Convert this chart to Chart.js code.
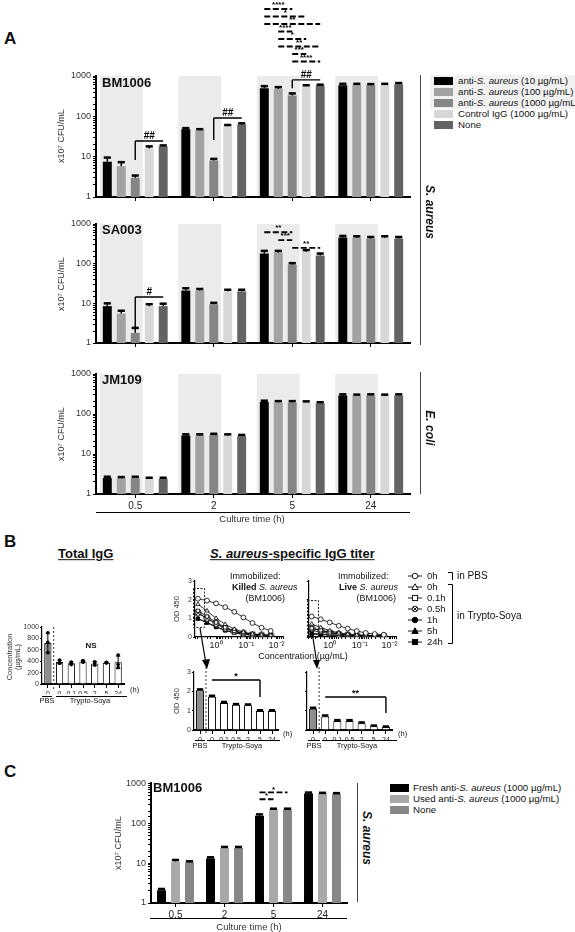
<!DOCTYPE html>
<html>
<head>
<meta charset="utf-8">
<title>CFU and IgG figure</title>
<script src="https://cdn.jsdelivr.net/npm/chart.js@4.4.1/dist/chart.umd.min.js"></script>
<style>
  body { margin: 0; width: 575px; height: 932px; position: relative; overflow: hidden; background: #fff;
         font-family: "Liberation Sans", Arial, sans-serif; color: #111; }
  .box { position: absolute; }
  .t { position: absolute; white-space: nowrap; font-size: 10px; line-height: 1.05; }
  .hl { position: absolute; height: 0; border-top: 1px solid #000; }
  .vl { position: absolute; width: 0; border-left: 1px solid #444; }
  .sw { position: absolute; width: 19px; height: 8px; }
</style>
</head>
<body>
<svg id="ann" width="575" height="932" style="position:absolute;left:0;top:0;z-index:3;pointer-events:none">
  <g fill="none" stroke="#222" stroke-width="1" stroke-dasharray="2,1.5">
    <rect x="193.5" y="588.5" width="11" height="39"/>
    <rect x="307.5" y="600.5" width="11" height="37"/>
  </g>
  <g stroke="#000" stroke-width="1.2">
    <line x1="200" y1="628" x2="205.5" y2="661"/>
    <line x1="313" y1="638" x2="316.5" y2="661"/>
  </g>
  <g fill="#000">
    <polygon points="202,660 210,659 207,669"/>
    <polygon points="313,660 320,660 317,669"/>
  </g>
  <g fill="none" stroke="#000" stroke-width="1">
    <path d="M448 572.5 H452.5 V580"/>
    <path d="M448 584.5 H452.5 V643.5 H448"/>
  </g>
  <g id="legB" stroke="#000" stroke-width="0.9"></g>
</svg>
<script>
Chart.defaults.font.family = '"Liberation Sans", Arial, sans-serif';
Chart.defaults.font.size = 9;
Chart.defaults.color = '#222';
Chart.defaults.animation = false;
Chart.defaults.plugins.legend.display = false;
Chart.defaults.plugins.tooltip.enabled = false;

// ---------- A: bacterial counts (x10^7 CFU/mL) ----------
const times = ['0.5', '2', '5', '24'];
const groupsA = ['anti-<i>S. aureus</i> (10 µg/mL)', 'anti-<i>S. aureus</i> (100 µg/mL)',
                 'anti-<i>S. aureus</i> (1000 µg/mL)', 'Control IgG (1000 µg/mL)', 'None'];
const colorsA = ['#000000', '#a2a2a2', '#858585', '#d7d7d7', '#636363'];

// one row per antibody group, one value per culture time
const bm1006 = [
  [7.5, 48, 500, 590],
  [5.8, 45, 480, 600],
  [3.0, 8.0, 330, 590],
  [16, 57, 560, 600],
  [18, 63, 580, 620]
];
const bm1006Err = [
  [2.0, 3, 60, 50],
  [1.5, 3, 50, 40],
  [0.4, 0.8, 40, 40],
  [2.0, 4, 30, 40],
  [1.0, 4, 30, 50]
];
const sa003 = [
  [8.5, 21, 180, 460],
  [5.5, 21, 190, 450],
  [1.8, 9.5, 95, 430],
  [8.5, 20, 200, 450],
  [8.5, 20, 160, 430]
];
const sa003Err = [
  [1.5, 3, 30, 40],
  [1.0, 2, 20, 40],
  [0.6, 0.8, 8, 40],
  [1.0, 2, 20, 40],
  [1.3, 2, 20, 40]
];
const jm109 = [
  [2.5, 29, 200, 290],
  [2.5, 29, 195, 285],
  [2.5, 30, 195, 290],
  [2.4, 29, 195, 285],
  [2.4, 28, 185, 290]
];
const jm109Err = [
  [0.2, 2, 15, 20],
  [0.15, 2, 15, 20],
  [0.2, 2, 15, 20],
  [0.15, 2, 12, 20],
  [0.15, 2, 12, 20]
];

// ---------- B: IgG ----------
const igLabels = ['0', '0', '0.1', '0.5', '2', '5', '24'];
const igMean = [720, 385, 365, 395, 360, 375, 380];
const igSD = [170, 30, 25, 20, 35, 10, 110];
const igRep1 = [900, 420, 385, 410, 390, 380, 510];
const igRep2 = [730, 370, 340, 400, 370, 375, 340];
const igRep3 = [550, 365, 370, 380, 330, 370, 290];

const conc = [4, 2, 1, 0.5, 0.25, 0.125, 0.0625, 0.03125, 0.0156];
const odLegend = ['0h', '0h', '0.1h', '0.5h', '1h', '5h', '24h'];
const killedPBS0 = [2.05, 1.95, 1.8, 1.6, 1.35, 1.05, 0.75, 0.5, 0.33];
const killedT0 = [1.75, 1.4, 1.0, 0.68, 0.42, 0.26, 0.17, 0.12, 0.09];
const killedT01 = [1.4, 1.1, 0.78, 0.52, 0.33, 0.21, 0.14, 0.1, 0.08];
const killedT05 = [1.3, 1.0, 0.72, 0.48, 0.3, 0.2, 0.13, 0.1, 0.08];
const killedT1 = [1.28, 0.98, 0.7, 0.46, 0.29, 0.19, 0.13, 0.09, 0.07];
const killedT5 = [0.98, 0.78, 0.55, 0.36, 0.23, 0.15, 0.11, 0.08, 0.07];
const killedT24 = [0.98, 0.76, 0.53, 0.35, 0.22, 0.15, 0.1, 0.08, 0.07];
const livePBS0 = [1.1, 0.95, 0.78, 0.6, 0.45, 0.32, 0.22, 0.16, 0.12];
const liveT0 = [0.7, 0.5, 0.34, 0.22, 0.15, 0.11, 0.09, 0.07, 0.06];
const liveT01 = [0.47, 0.36, 0.25, 0.17, 0.12, 0.09, 0.07, 0.06, 0.05];
const liveT05 = [0.47, 0.35, 0.24, 0.16, 0.11, 0.09, 0.07, 0.06, 0.05];
const liveT1 = [0.35, 0.27, 0.19, 0.13, 0.1, 0.08, 0.06, 0.05, 0.05];
const liveT5 = [0.2, 0.16, 0.12, 0.09, 0.07, 0.06, 0.05, 0.05, 0.04];
const liveT24 = [0.15, 0.12, 0.1, 0.08, 0.06, 0.05, 0.05, 0.04, 0.04];

const killedBar = [2.05, 1.72, 1.4, 1.3, 1.28, 0.98, 0.98];
const killedBarErr = [0.05, 0.05, 0.05, 0.04, 0.04, 0.04, 0.04];
const liveBar = [1.1, 0.7, 0.47, 0.47, 0.35, 0.2, 0.15];
const liveBarErr = [0.05, 0.05, 0.04, 0.04, 0.04, 0.03, 0.03];

// ---------- C ----------
const groupsC = ['Fresh anti-<i>S. aureus</i> (1000 µg/mL)', 'Used anti-<i>S. aureus</i> (1000 µg/mL)', 'None'];
const colorsC = ['#000000', '#a8a8a8', '#878787'];
const cFresh = [2.1, 13, 155, 560];
const cUsed = [11, 24, 220, 550];
const cNone = [10.5, 24, 220, 540];
const cFreshErr = [0.15, 1, 12, 30];
const cUsedErr = [1, 1.5, 12, 30];
const cNoneErr = [0.6, 1.5, 12, 30];

// ---------- helpers ----------
const deco = {
  id: 'deco',
  beforeDatasetsDraw(chart, args, o) {
    if (!o.shade) return;
    const { ctx, chartArea: a } = chart;
    ctx.save();
    ctx.fillStyle = '#ebebeb';
    chart.data.labels.forEach((l, i) => {
      const b0 = chart.getDatasetMeta(0).data[i], b2 = chart.getDatasetMeta(2).data[i];
      const x0 = b0.x - b0.width / 2 - 3, x1 = b2.x + b2.width / 2 + 3;
      ctx.fillRect(x0, a.top, x1 - x0, a.bottom - a.top - 1);
    });
    ctx.restore();
  },
  afterDatasetsDraw(chart, args, o) {
    const { ctx, chartArea: a, scales: { y } } = chart;
    ctx.save();
    chart.data.datasets.forEach((ds, j) => {
      if (!ds.errs) return;
      chart.getDatasetMeta(j).data.forEach((el, i) => {
        const v = ds.data[i], e = ds.errs[i];
        const yt = y.getPixelForValue(v + e);
        const yb = ds.both ? y.getPixelForValue(v - e) : y.getPixelForValue(v);
        const cw = el.width * (ds.both ? 0.6 : 0.8) / 2;
        ctx.strokeStyle = '#000';
        ctx.lineWidth = ds.both ? 1 : 1.5;
        ctx.beginPath(); ctx.moveTo(el.x, yb); ctx.lineTo(el.x, yt); ctx.stroke();
        ctx.lineWidth = ds.both ? 1 : 2.5;
        ctx.beginPath(); ctx.moveTo(el.x - cw, yt); ctx.lineTo(el.x + cw, yt);
        if (ds.both) { ctx.moveTo(el.x - cw, yb); ctx.lineTo(el.x + cw, yb); }
        ctx.stroke();
      });
    });
    if (o.sep) {
      const m = chart.getDatasetMeta(0).data;
      const xs = (m[0].x + m[1].x) / 2;
      ctx.strokeStyle = '#333'; ctx.lineWidth = 1; ctx.setLineDash([2, 2]);
      ctx.beginPath(); ctx.moveTo(xs, a.top - o.sep[0]); ctx.lineTo(xs, a.bottom + o.sep[1]); ctx.stroke();
      ctx.setLineDash([]);
    }
    (o.marks || []).forEach(m => {
      const p1 = chart.getDatasetMeta(m.x1[0]).data[m.x1[1]];
      const p2 = chart.getDatasetMeta(m.x2[0]).data[m.x2[1]];
      const yy = m.lift != null ? a.top - m.lift : y.getPixelForValue(m.at);
      ctx.strokeStyle = '#000';
      ctx.lineWidth = m.dash ? 1.8 : 1.4;
      ctx.setLineDash(m.dash ? [6, 2.5] : []);
      ctx.beginPath(); ctx.moveTo(p1.x, yy); ctx.lineTo(p2.x, yy);
      if (m.drop != null) {
        const xd = m.side === 'right' ? p2.x : p1.x;
        ctx.moveTo(xd, yy); ctx.lineTo(xd, y.getPixelForValue(m.drop));
      }
      ctx.stroke(); ctx.setLineDash([]);
      ctx.fillStyle = '#000';
      ctx.font = 'bold ' + (m.size || 9) + 'px "Liberation Sans", Arial';
      ctx.textAlign = 'center'; ctx.textBaseline = 'bottom';
      ctx.fillText(m.text, (p1.x + p2.x) / 2, yy + (m.dy || 0));
    });
    ctx.restore();
  }
};
Chart.register(deco);

function chartAt(area, yW, xH, pad, config) {
  const left = area[0] - yW, top = area[1] - pad.top;
  const w = area[2] - left + pad.right, h = area[3] + xH - top;
  const wrap = document.createElement('div');
  wrap.className = 'box';
  wrap.style.cssText = `left:${left}px;top:${top}px;width:${w}px;height:${h}px`;
  const cv = document.createElement('canvas');
  wrap.appendChild(cv);
  document.body.appendChild(wrap);
  const o = config.options;
  o.responsive = true;
  o.maintainAspectRatio = false;
  o.layout = { padding: { top: pad.top, right: pad.right, left: 0, bottom: 0 } };
  o.scales.x.afterFit = s => { s.height = xH; };
  o.scales.y.afterFit = s => { s.width = yW; };
  return new Chart(cv, config);
}

const isDecade = v => Math.abs(Math.log10(v) - Math.round(Math.log10(v))) < 1e-6;
const sup = { '0': '⁰', '-1': '⁻¹', '-2': '⁻²' };

function logY(min, max, fs) {
  return {
    type: 'logarithmic', min: min, max: max,
    border: { color: '#000', width: 2 },
    grid: { drawOnChartArea: false, color: '#000', tickLength: 3 },
    ticks: { autoSkip: false, padding: 2, color: '#333', font: { size: fs },
             callback: v => isDecade(v) ? String(v) : '' }
  };
}
function catX(show, fs) {
  return {
    type: 'category', offset: true,
    border: { color: '#000', width: 2 },
    grid: { drawOnChartArea: false, offset: false, color: '#000', tickLength: 4 },
    ticks: { display: show, autoSkip: false, maxRotation: 0, minRotation: 0,
             padding: 2, color: '#222', font: { size: fs } }
  };
}
function barSets(rows, errs, colors, catPct) {
  return rows.map((r, i) => ({
    data: r, errs: errs[i], backgroundColor: colors[i], borderWidth: 0,
    categoryPercentage: catPct, barPercentage: 0.64
  }));
}

function chartA(area, rows, errs, marks, showX) {
  return chartAt(area, 40, showX ? 17 : 8, { top: area[1], right: 6 }, {
    type: 'bar',
    data: { labels: times, datasets: barSets(rows, errs, colorsA, 0.89) },
    options: {
      scales: { x: catX(showX, 10), y: logY(1, 1000, 9) },
      plugins: { deco: { shade: true, marks: marks } }
    }
  });
}

// ---------- panel A charts ----------
chartA([96, 76, 410, 197], bm1006, bm1006Err, [
  { x1: [2, 0], x2: [4, 0], at: 24.5, drop: 8.3, text: '##', size: 10 },
  { x1: [2, 1], x2: [4, 1], at: 91, drop: 26, text: '##', size: 10 },
  { x1: [2, 2], x2: [4, 2], at: 800, drop: 500, text: '##', size: 10 },
  { x1: [0, 2], x2: [2, 2], lift: 67, text: '****', dash: true, size: 8 },
  { x1: [0, 2], x2: [3, 2], lift: 59.5, text: '*', dash: true, size: 8 },
  { x1: [0, 2], x2: [4, 2], lift: 52, text: '**', dash: true, size: 8 },
  { x1: [1, 2], x2: [2, 2], lift: 44.5, text: '****', dash: true, size: 8 },
  { x1: [1, 2], x2: [3, 2], lift: 37, text: '*', dash: true, size: 8 },
  { x1: [1, 2], x2: [4, 2], lift: 29.5, text: '**', dash: true, size: 8 },
  { x1: [2, 2], x2: [3, 2], lift: 22, text: '***', dash: true, size: 8 },
  { x1: [2, 2], x2: [4, 2], lift: 14.5, text: '****', dash: true, size: 8 }
], false);

chartA([96, 224, 410, 343], sa003, sa003Err, [
  { x1: [2, 0], x2: [4, 0], at: 14.4, drop: 2.5, text: '#', size: 10 },
  { x1: [0, 2], x2: [2, 2], at: 620, text: '**', dash: true, size: 8 },
  { x1: [1, 2], x2: [2, 2], at: 390, text: '***', dash: true, size: 8 },
  { x1: [2, 2], x2: [4, 2], at: 250, text: '**', dash: true, size: 8 }
], false);

chartA([96, 374, 410, 494], jm109, jm109Err, [], true);

// ---------- panel B charts ----------
const pbsFill = c => c.dataIndex === 0 ? '#8d8d8d' : '#ffffff';
const repDot = r => ({ type: 'line', data: r, showLine: false, pointRadius: 1.8,
  pointBackgroundColor: '#000', pointBorderWidth: 0, order: 1 });

chartAt([42, 627, 126, 684], 22, 10, { top: 8, right: 2 }, {
  type: 'bar',
  data: { labels: igLabels, datasets: [
    { data: igMean, errs: igSD, both: true, backgroundColor: pbsFill, borderColor: '#000', borderWidth: 1,
      categoryPercentage: 1, barPercentage: 0.62, order: 2 },
    repDot(igRep1), repDot(igRep2), repDot(igRep3)
  ] },
  options: {
    scales: {
      x: catX(true, 7),
      y: { min: 0, max: 1000, border: { color: '#000', width: 1.2 },
           grid: { drawOnChartArea: false, color: '#000', tickLength: 2 },
           ticks: { stepSize: 200, padding: 1, font: { size: 7 }, color: '#333', callback: v => String(v) } }
    },
    plugins: { deco: { sep: [0, 6] } }
  }
});

function crossCircle() {
  const c = document.createElement('canvas');
  c.width = 8; c.height = 8;
  const g = c.getContext('2d');
  g.fillStyle = '#fff'; g.strokeStyle = '#000'; g.lineWidth = 0.9;
  g.beginPath(); g.arc(4, 4, 3.2, 0, Math.PI * 2); g.fill(); g.stroke();
  g.beginPath(); g.moveTo(1.9, 1.9); g.lineTo(6.1, 6.1); g.moveTo(6.1, 1.9); g.lineTo(1.9, 6.1); g.stroke();
  return c;
}
const odStyles = [
  ['circle', '#fff'], ['triangle', '#fff'], ['rect', '#fff'], [crossCircle(), '#fff'],
  ['circle', '#000'], ['triangle', '#000'], ['rect', '#000']
];
function odChart(area, rows, showY) {
  return chartAt(area, showY ? 14 : 4, 12, { top: 6, right: 2 }, {
    type: 'line',
    data: { datasets: rows.map((r, i) => ({
      data: conc.map((c, k) => ({ x: c, y: r[k] })),
      borderColor: '#000', borderWidth: 0.8,
      pointStyle: odStyles[i][0], pointRadius: 2.4, pointBackgroundColor: odStyles[i][1],
      pointBorderColor: '#000', pointBorderWidth: 0.8
    })) },
    options: {
      scales: {
        x: { type: 'logarithmic', reverse: true, min: 0.006, max: 5,
             border: { color: '#000', width: 1.2 },
             grid: { drawOnChartArea: false, color: '#000', tickLength: 2 },
             ticks: { autoSkip: false, maxRotation: 0, padding: 1, font: { size: 9 }, color: '#222',
                      callback: v => isDecade(v) ? '10' + sup[String(Math.round(Math.log10(v)))] : '' } },
        y: { min: 0, max: 3, border: { color: '#000', width: 1.2 },
             grid: { drawOnChartArea: false, color: '#000', tickLength: 2 },
             ticks: { display: showY, stepSize: 1, padding: 1, font: { size: 7 }, color: '#333' } }
      }
    }
  });
}
odChart([195, 581, 286, 637], [killedPBS0, killedT0, killedT01, killedT05, killedT1, killedT5, killedT24], true);
odChart([308, 581, 399, 637], [livePBS0, liveT0, liveT01, liveT05, liveT1, liveT5, liveT24], false);

function odBars(area, vals, errs, showY, mark) {
  return chartAt(area, showY ? 14 : 4, 10, { top: 6, right: 2 }, {
    type: 'bar',
    data: { labels: igLabels, datasets: [
      { data: vals, errs: errs, backgroundColor: pbsFill, borderColor: '#000', borderWidth: 1,
        categoryPercentage: 1, barPercentage: 0.66 }
    ] },
    options: {
      scales: {
        x: catX(true, 7),
        y: { min: 0, max: 3, border: { color: '#000', width: 1.2 },
             grid: { drawOnChartArea: false, color: '#000', tickLength: 2 },
             ticks: { display: showY, stepSize: 1, padding: 1, font: { size: 7 }, color: '#333' } }
      },
      plugins: { deco: { sep: [9, 5], marks: [mark] } }
    }
  });
}
odBars([194, 672, 278, 730], killedBar, killedBarErr, true,
  { x1: [0, 1], x2: [0, 5], at: 2.59, drop: 1.71, side: 'right', text: '*', size: 9, dy: 1 });
odBars([307, 672, 392, 730], liveBar, liveBarErr, false,
  { x1: [0, 1], x2: [0, 6], at: 1.71, drop: 0.88, side: 'right', text: '**', size: 9, dy: 1 });

// ---------- panel C chart ----------
chartAt([151, 783, 347, 903], 40, 17, { top: 7, right: 4 }, {
  type: 'bar',
  data: { labels: times, datasets: barSets([cFresh, cUsed, cNone], [cFreshErr, cUsedErr, cNoneErr], colorsC, 0.857) },
  options: {
    scales: { x: catX(true, 10), y: logY(1, 1000, 9) },
    plugins: { deco: { marks: [
      { x1: [0, 2], x2: [2, 2], at: 596, text: '*', dash: true, size: 8, dy: 1 },
      { x1: [0, 2], x2: [1, 2], at: 400, text: '*', dash: true, size: 8, dy: 1 }
    ] } }
  }
});

// ---------- text and rules ----------
function txt(html, x, y, align, style) {
  const d = document.createElement('div');
  d.className = 't';
  d.innerHTML = html;
  const tx = align === 'c' ? '-50%' : align === 'r' ? '-100%' : '0';
  d.style.cssText = `left:${x}px;top:${y}px;` + (style || '');
  d.style.transform = `translate(${tx},-50%)`;
  document.body.appendChild(d);
  return d;
}
function rot(html, x, y, deg, style) {
  const d = txt(html, x, y, 'c', style);
  d.style.transform = `translate(-50%,-50%) rotate(${deg}deg)`;
  return d;
}
function hl(x1, x2, y, css) {
  const d = document.createElement('div');
  d.className = 'hl';
  d.style.cssText = `left:${x1}px;top:${y}px;width:${x2 - x1}px;` + (css || '');
  document.body.appendChild(d);
}
function vl(x, y1, y2, css) {
  const d = document.createElement('div');
  d.className = 'vl';
  d.style.cssText = `left:${x}px;top:${y1}px;height:${y2 - y1}px;` + (css || '');
  document.body.appendChild(d);
}

const bold = 'font-weight:bold;';
// A
txt('A', 4, 39, 'l', bold + 'font-size:17px');
txt('BM1006', 102, 83, 'l', bold + 'font-size:13px');
txt('SA003', 102, 230, 'l', bold + 'font-size:13px');
txt('JM109', 102, 380, 'l', bold + 'font-size:13px');
[136, 284, 434].forEach(cy => rot('x10⁷ CFU/mL', 62, cy, -90, 'font-size:9px;color:#333'));
hl(96, 410, 512);
txt('Culture time (h)', 252, 519, 'c', 'font-size:9.5px;color:#333');
const legA = document.createElement('div');
legA.className = 'box';
legA.style.cssText = 'left:430px;top:75px;width:145px;height:34px;background:#f1f1f1';
document.body.appendChild(legA);
groupsA.forEach((g, i) => {
  const y = 81 + i * 11;
  const s = document.createElement('div');
  s.className = 'sw';
  s.style.cssText = `left:434px;top:${y - 4}px;background:${colorsA[i]}`;
  document.body.appendChild(s);
  txt(g, 458, y, 'l', 'font-size:9.7px');
});
vl(420, 75, 345);
rot('S. aureus', 430, 212, 90, bold + 'font-style:italic;font-size:12px');
vl(420, 372, 494);
rot('E. coli', 430, 428, 90, bold + 'font-style:italic;font-size:12px');

// B
txt('B', 4, 542, 'l', bold + 'font-size:17px');
txt('Total IgG', 58, 554, 'l', bold + 'font-size:13px;text-decoration:underline');
txt('<i>S. aureus</i>-specific IgG titer', 210, 554, 'l', bold + 'font-size:13px;text-decoration:underline');
rot('Concentration<br>(µg/mL)', 14, 657, -90, 'font-size:7.5px;text-align:center;color:#333');
txt('NS', 91, 646, 'c', bold + 'font-size:8px');
hl(42, 52, 696); hl(56, 127, 696);
txt('PBS', 47, 701, 'c', 'font-size:7.5px');
txt('Trypto-Soya', 90, 701, 'c', 'font-size:7.5px');
txt('(h)', 130, 690, 'l', 'font-size:7.5px');

txt('Immobilized:', 230, 577, 'l', 'font-size:9px');
txt('<b>Killed</b> <i>S. aureus</i>', 232, 588, 'l', 'font-size:9px');
txt('(BM1006)', 285, 599, 'r', 'font-size:9px');
txt('Immobilized:', 338, 577, 'l', 'font-size:9px');
txt('<b>Live</b> <i>S. aureus</i>', 339, 588, 'l', 'font-size:9px');
txt('(BM1006)', 396, 599, 'r', 'font-size:9px');
txt('Concentration (µg/mL)', 303, 657, 'c', 'font-size:9px');
rot('OD 450', 177, 609, -90, 'font-size:7.5px;color:#333');
rot('OD 450', 177, 701, -90, 'font-size:7.5px;color:#333');

const legB = document.getElementById('legB');
const ns = 'http://www.w3.org/2000/svg';
function svgEl(tag, attrs) {
  const e = document.createElementNS(ns, tag);
  Object.keys(attrs).forEach(k => e.setAttribute(k, attrs[k]));
  legB.appendChild(e);
  return e;
}
odLegend.forEach((l, i) => {
  const y = 576 + i * 11, x = 415;
  const fill = odStyles[i][1];
  svgEl('line', { x1: 408, y1: y, x2: 422, y2: y });
  if (i === 0 || i === 3 || i === 4) svgEl('circle', { cx: x, cy: y, r: 2.8, fill: fill });
  if (i === 1 || i === 5) svgEl('polygon', { points: `${x},${y - 3.2} ${x + 3.2},${y + 2.5} ${x - 3.2},${y + 2.5}`, fill: fill });
  if (i === 2 || i === 6) svgEl('rect', { x: x - 2.6, y: y - 2.6, width: 5.2, height: 5.2, fill: fill });
  if (i === 3) svgEl('path', { d: `M${x - 2} ${y - 2} L${x + 2} ${y + 2} M${x + 2} ${y - 2} L${x - 2} ${y + 2}`, fill: 'none' });
  txt(l, 427, y, 'l', 'font-size:9.5px');
});
txt('in PBS', 457, 576, 'l', 'font-size:10px');
txt('in Trypto-Soya', 457, 616, 'l', 'font-size:10px');

hl(195, 205, 740); hl(207, 280, 740);
txt('PBS', 200, 746, 'c', 'font-size:7.5px');
txt('Trypto-Soya', 242, 746, 'c', 'font-size:7.5px');
txt('(h)', 283, 734, 'l', 'font-size:7.5px');
hl(308, 320, 740); hl(322, 397, 740);
txt('PBS', 314, 746, 'c', 'font-size:7.5px');
txt('Trypto-Soya', 357, 746, 'c', 'font-size:7.5px');
txt('(h)', 398, 734, 'l', 'font-size:7.5px');

// C
txt('C', 4, 772, 'l', bold + 'font-size:17px');
txt('BM1006', 153, 788, 'l', bold + 'font-size:13px');
rot('x10⁷ CFU/mL', 119, 843, -90, 'font-size:9px;color:#333');
hl(150, 347, 918);
txt('Culture time (h)', 249, 927, 'c', 'font-size:9.5px;color:#333');
groupsC.forEach((g, i) => {
  const y = 788 + i * 11;
  const s = document.createElement('div');
  s.className = 'sw';
  s.style.cssText = `left:390px;top:${y - 4}px;background:${colorsC[i]}`;
  document.body.appendChild(s);
  txt(g, 413, y, 'l', 'font-size:9.7px');
});
vl(357, 783, 902);
rot('S. aureus', 367, 838, 90, bold + 'font-style:italic;font-size:12px');
</script>
</body>
</html>
